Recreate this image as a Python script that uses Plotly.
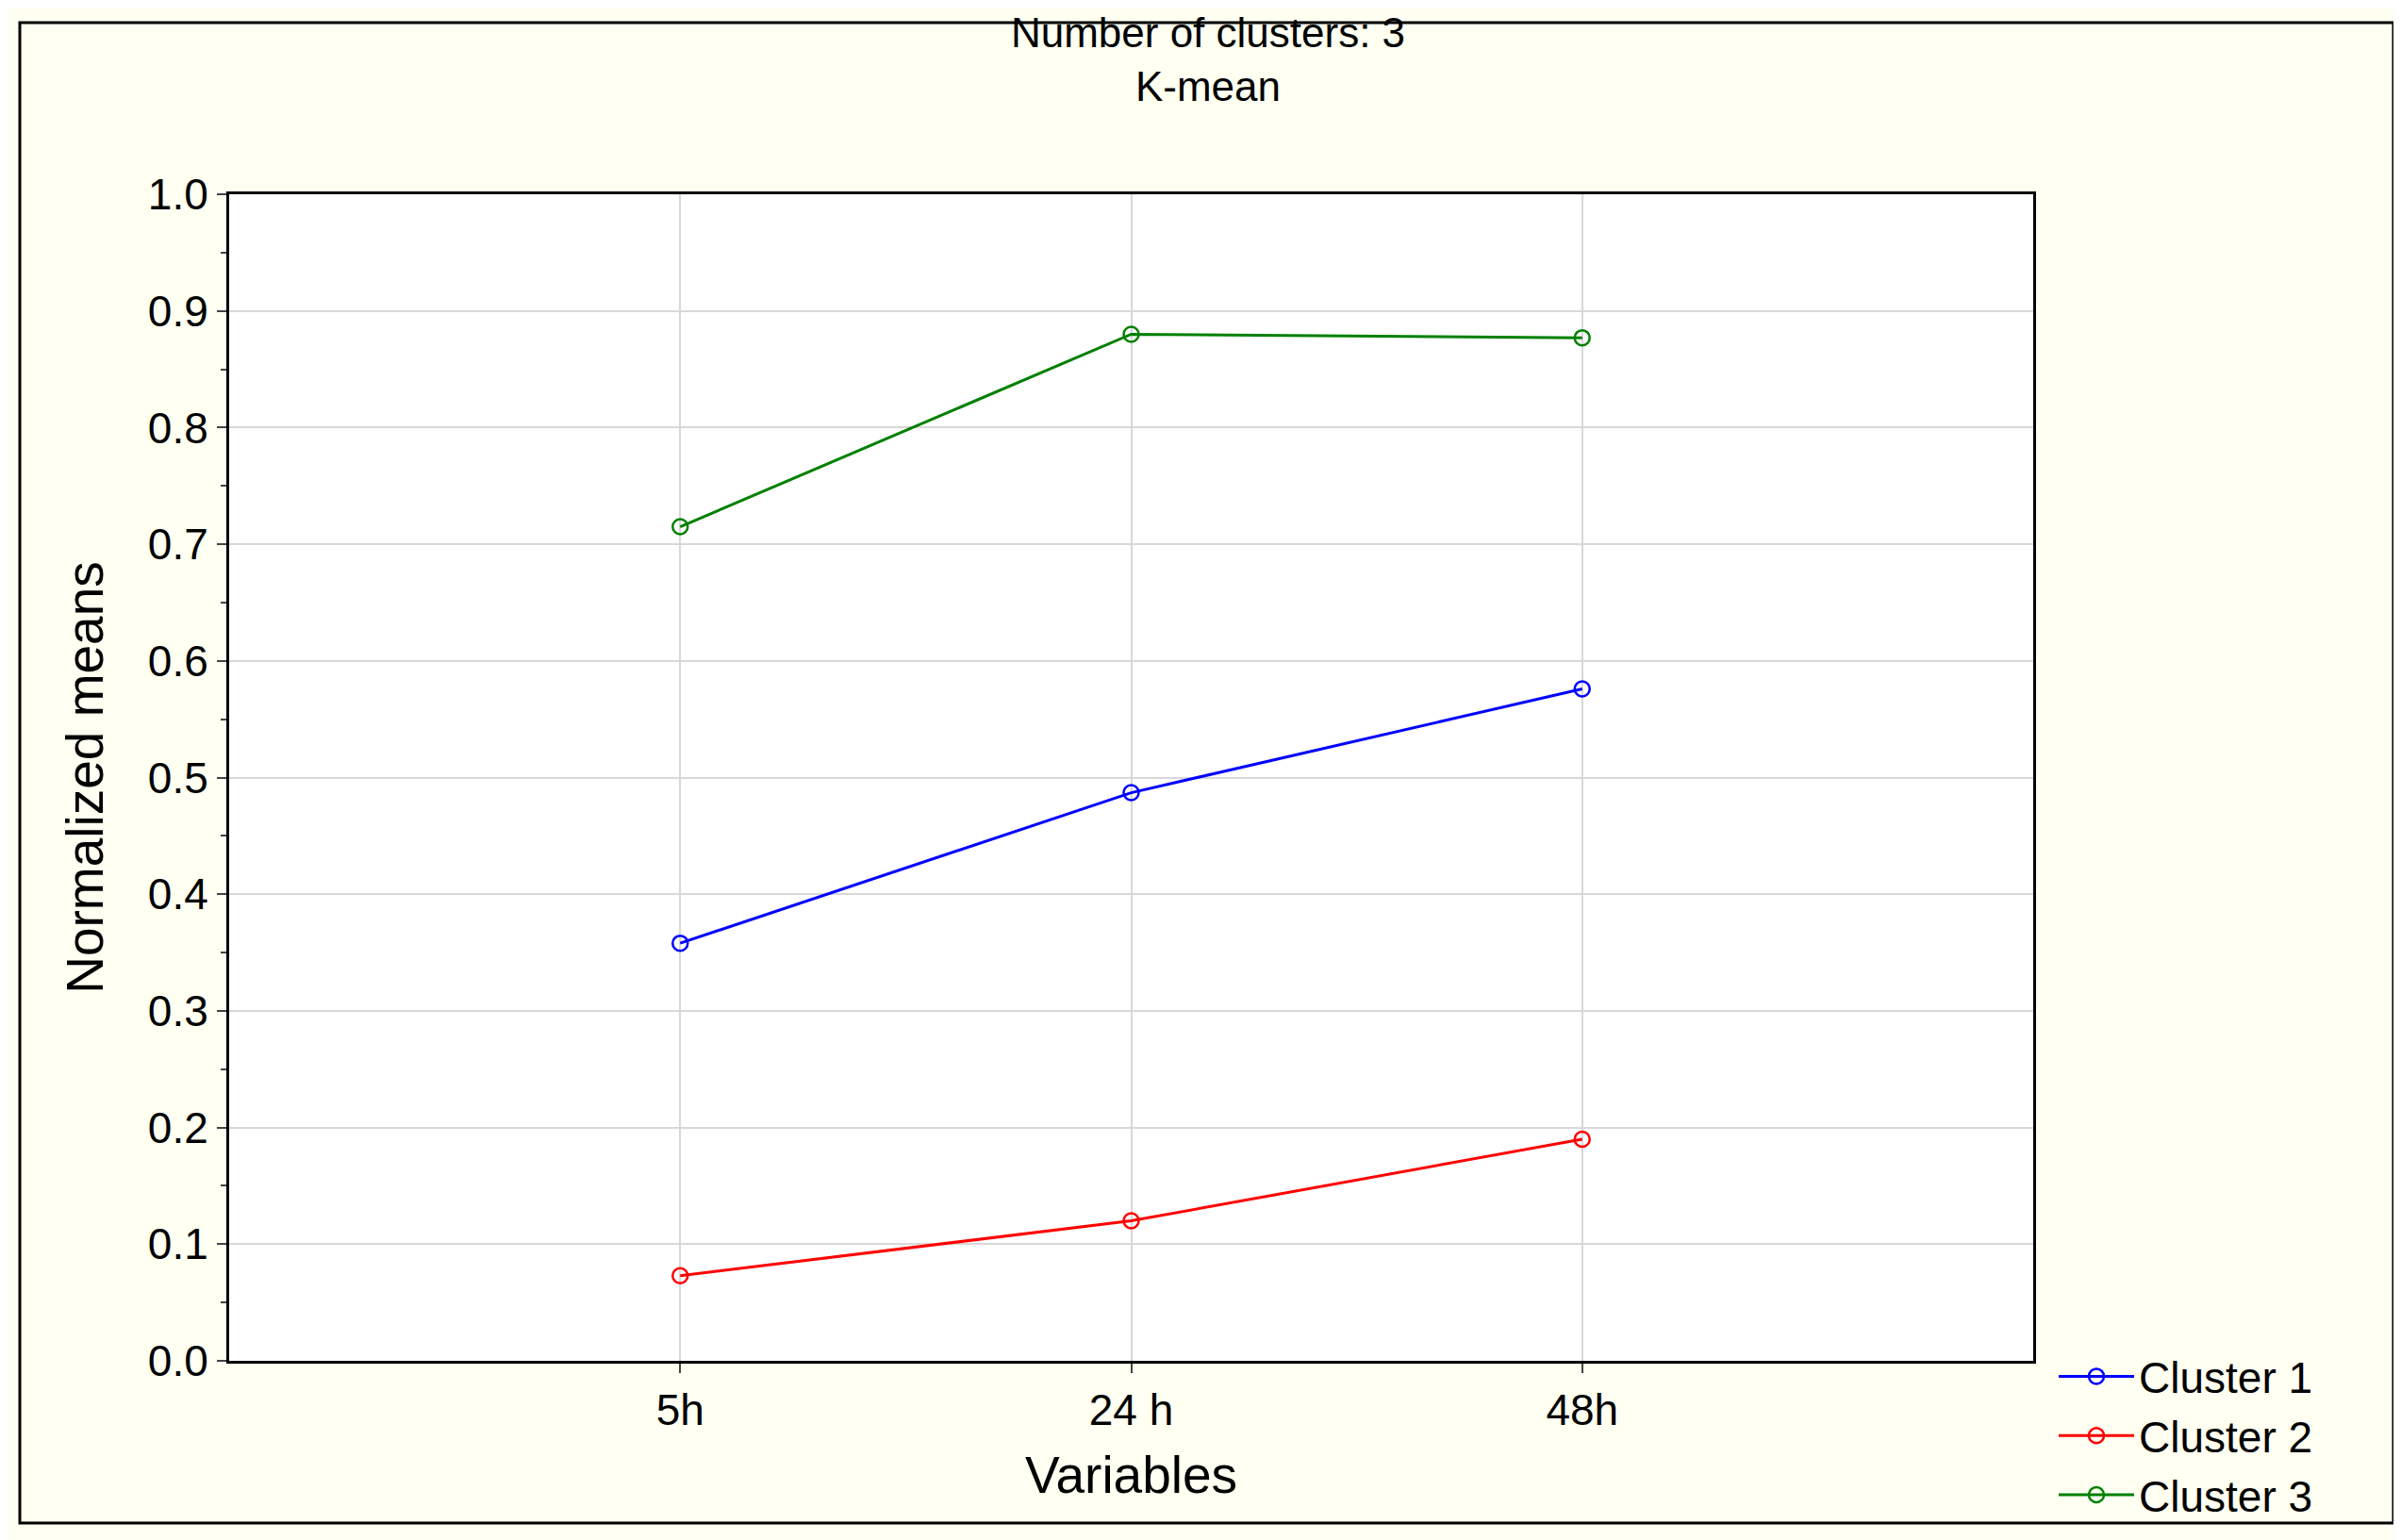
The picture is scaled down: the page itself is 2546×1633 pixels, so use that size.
import plotly.graph_objects as go

categories = ["5h", "24 h", "48h"]
cat_pos = [1, 2, 3]
cluster1 = [0.358, 0.487, 0.576]
cluster2 = [0.073, 0.120, 0.190]
cluster3 = [0.715, 0.880, 0.877]
names = ["Cluster 1", "Cluster 2", "Cluster 3"]
colors = ["#0000FF", "#FF0000", "#008000"]

W, H = 2546, 1633
L, R, T, B = 235, 2148, 198, 1435
pw, ph = R - L, B - T
fig = go.Figure()
for n, v, c in zip(names, [cluster1, cluster2, cluster3], colors):
    fig.add_trace(go.Scatter(x=cat_pos, y=v, name=n, mode="lines+markers",
                             line=dict(color=c, width=3),
                             marker=dict(symbol="circle-open", size=16, color=c, line=dict(width=2.5))))

font = dict(family="Liberation Sans, Arial", size=46, color="black")
fig.update_layout(
    width=W, height=H, paper_bgcolor="#FFFFF2", plot_bgcolor="white",
    font=font,
    margin=dict(l=L, r=W - R, t=T, b=H - B),
    title=dict(text="Number of clusters: 3<br>K-mean", x=0.5, xanchor="center",
               y=1 - 42 / H, yanchor="top", font=dict(size=44)),
    legend=dict(x=(2170 - L) / pw, y=(B - 1415) / ph, xanchor="left", yanchor="top",
                bgcolor="rgba(0,0,0,0)", font=dict(size=46), itemwidth=80,
                tracegroupgap=0),
    shapes=[dict(type="rect", xref="paper", yref="paper",
                 x0=-222 / pw, x1=(2530 - L) / pw,
                 y0=-(1607 - B) / ph, y1=1 + (T - 16) / ph,
                 line=dict(color="black", width=3))],
)
fig.update_xaxes(range=[0, 4], tickvals=cat_pos, ticktext=categories, showgrid=True,
                 gridcolor="#D8D8D8", gridwidth=2, showline=True, mirror=True, linecolor="black",
                 linewidth=3, ticks="outside", ticklen=10, tickwidth=2,
                 title=dict(text="Variables", standoff=25), zeroline=False)
fig.update_yaxes(range=[0, 1], dtick=0.1, tickformat=".1f", showgrid=True, gridcolor="#D8D8D8",
                 gridwidth=2, showline=True, mirror=True, linecolor="black", linewidth=3,
                 ticks="outside", ticklen=10, tickwidth=2, minor=dict(ticks="outside", ticklen=6, dtick=0.05),
                 title=dict(text="Normalized means", standoff=30), zeroline=False)
fig.write_html("out.html")
